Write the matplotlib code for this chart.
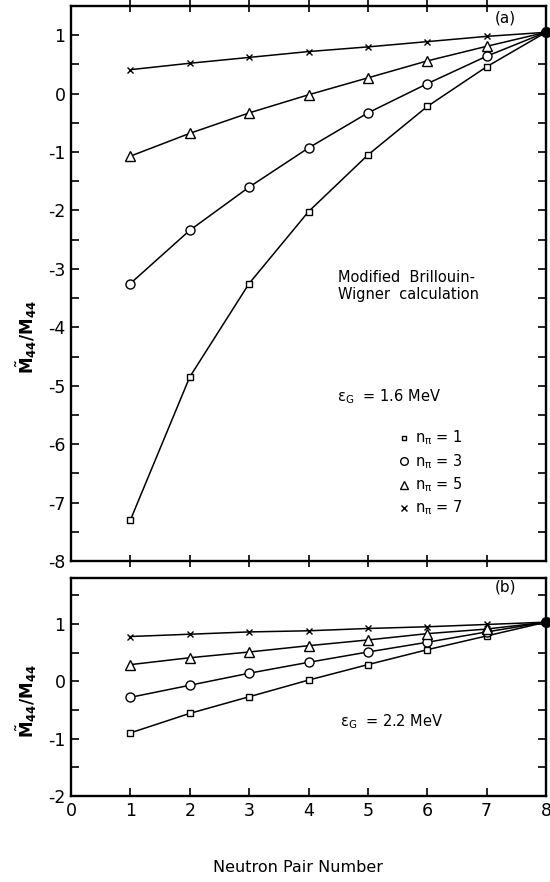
import matplotlib
matplotlib.use("Agg")
import matplotlib.pyplot as plt
from matplotlib.ticker import MultipleLocator

plt.rcParams['font.family'] = ['DejaVu Sans']
plt.rcParams['mathtext.default'] = 'regular'
plt.rcParams['axes.unicode_minus'] = False

x = [1, 2, 3, 4, 5, 6, 7, 8]

# Panel (a): eps_G = 1.6 MeV
a_n1 = [-7.30, -4.85, -3.25, -2.02, -1.05, -0.22, 0.46, 1.05]
a_n3 = [-3.25, -2.34, -1.60, -0.93, -0.33, 0.17, 0.64, 1.05]
a_n5 = [-1.07, -0.68, -0.33, -0.02, 0.27, 0.56, 0.81, 1.05]
a_n7 = [0.41, 0.52, 0.62, 0.72, 0.80, 0.89, 0.98, 1.05]

# Panel (b): eps_G = 2.2 MeV
b_n1 = [-0.90, -0.56, -0.27, 0.02, 0.29, 0.55, 0.79, 1.03]
b_n3 = [-0.28, -0.07, 0.14, 0.33, 0.51, 0.68, 0.86, 1.03]
b_n5 = [0.29, 0.41, 0.51, 0.62, 0.72, 0.83, 0.91, 1.03]
b_n7 = [0.78, 0.82, 0.86, 0.88, 0.92, 0.95, 0.99, 1.03]

series_labels = [r'n$_{\pi}$ = 1', r'n$_{\pi}$ = 3', r'n$_{\pi}$ = 5', r'n$_{\pi}$ = 7']
markers = ['s', 'o', '^', 'x']
msizes = [4.0, 6.5, 6.5, 4.5]

W, H = 550, 882
fig = plt.figure(figsize=(W / 100, H / 100), dpi=100)

def ax_rect(l, r, t, b):
    return [l / W, 1 - b / H, (r - l) / W, (b - t) / H]

axa = fig.add_axes(ax_rect(71, 546, 6, 561))
axb = fig.add_axes(ax_rect(71, 546, 578, 796))

def draw(ax, data):
    for ys, m, ms in zip(data, markers, msizes):
        ax.plot(x[:-1], ys[:-1], color='black', lw=1.1, marker=m, ms=ms,
                mfc='white', mec='black', mew=1.0, zorder=3)
        ax.plot(x[-2:], ys[-2:], color='black', lw=1.1, zorder=2)
    ax.plot([x[-1]], [data[0][-1]], 'o', color='black', ms=7, zorder=4, clip_on=False)
    for s in ax.spines.values():
        s.set_linewidth(1.7)
    ax.xaxis.set_major_locator(MultipleLocator(1))
    ax.yaxis.set_major_locator(MultipleLocator(1))
    ax.yaxis.set_minor_locator(MultipleLocator(0.5))
    ax.set_xlim(0, 8)

draw(axa, [a_n1, a_n3, a_n5, a_n7])
draw(axb, [b_n1, b_n3, b_n5, b_n7])

axa.set_ylim(-8, 1.5)
axb.set_ylim(-2, 1.8)

# tick styles
axa.tick_params(axis='y', which='both', direction='in', length=6, width=1.2,
                left=True, right=True, labelsize=12.5, pad=4)
axa.tick_params(axis='x', which='both', direction='inout', length=9, width=1.2,
                top=True, bottom=True, labelbottom=False)
axa.set_xticks([1, 2, 3, 4, 5, 6, 7])

axb.tick_params(axis='y', which='both', direction='in', length=6, width=1.2,
                left=True, right=True, labelsize=12.5, pad=4)
axb.tick_params(axis='x', which='both', direction='in', length=6, width=1.2,
                top=False, bottom=True, labelsize=12.5, pad=4)

# texts
fig.text(505 / W, 1 - 18 / H, '(a)', fontsize=11, ha='center', va='center')
fig.text(505 / W, 1 - 587 / H, '(b)', fontsize=11, ha='center', va='center')

fig.text(338 / W, 1 - 286 / H, 'Modified  Brillouin-\nWigner  calculation',
         fontsize=10.5, ha='left', va='center', linespacing=1.25)
fig.text(337 / W, 1 - 397 / H, r'$\epsilon_G$  = 1.6 MeV', fontsize=10.5,
         ha='left', va='center')
for i, (lab, m, ms) in enumerate(zip(series_labels, markers, msizes)):
    yy = 438 + 23.3 * i
    fig.lines.append(plt.Line2D([404 / W], [1 - yy / H], marker=m, ms=ms * 0.85,
                                mfc='white', mec='black', color='black', mew=1.0,
                                transform=fig.transFigure, figure=fig))
    fig.text(415 / W, 1 - yy / H, lab, fontsize=10.5, ha='left', va='center')

fig.text(340 / W, 1 - 722 / H, r'$\epsilon_G$  = 2.2 MeV', fontsize=10.5,
         ha='left', va='center')

ylab = r'$\tilde{M}_{44}$/M$_{44}$'
fig.text(27 / W, 1 - 337 / H, ylab, fontsize=12, rotation=90, ha='center',
         va='center', fontweight='bold')
fig.text(27 / W, 1 - 701 / H, ylab, fontsize=12, rotation=90, ha='center',
         va='center', fontweight='bold')

fig.text(298 / W, 1 - 868 / H, 'Neutron Pair Number', fontsize=11.5,
         ha='center', va='center')

fig.savefig('out.png', dpi=100)
